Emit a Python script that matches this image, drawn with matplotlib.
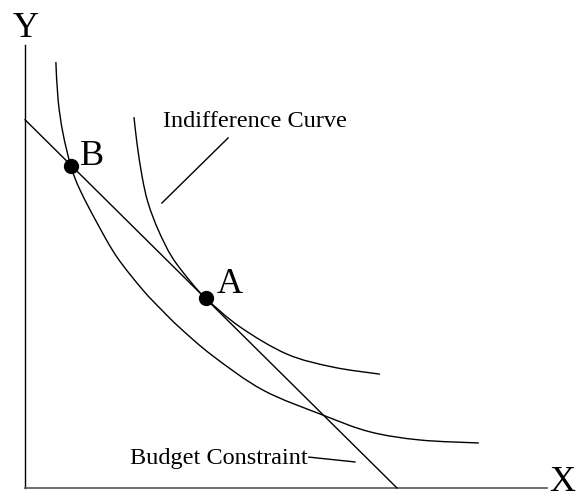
import matplotlib
matplotlib.use("Agg")
import matplotlib.pyplot as plt
from matplotlib.path import Path
from matplotlib.patches import PathPatch

plt.rcParams['font.family'] = ['Liberation Serif', 'DejaVu Serif']

# Lower indifference curve (through B)
curve1_x = [0.83, 0.89, 1.02, 1.24, 1.48, 1.94, 2.47, 3.17, 3.68, 4.17, 5.05, 6.40, 8.01, 9.27, 10.62, 12.20]
curve1_y = [11.45, 10.43, 9.54, 8.63, 8.01, 7.12, 6.21, 5.32, 4.78, 4.30, 3.55, 2.63, 1.96, 1.51, 1.29, 1.21]

# Upper indifference curve (tangent at A)
curve2_x = [2.93, 3.01, 3.15, 3.31, 3.58, 3.95, 4.44, 4.86, 5.78, 7.04, 8.28, 9.54]
curve2_y = [9.97, 9.27, 8.36, 7.66, 6.94, 6.21, 5.56, 5.10, 4.33, 3.60, 3.25, 3.06]

# Budget constraint end points (intercepts)
budget_x = [0.0, 10.0]
budget_y = [9.9, 0.0]

# Points
point_labels = ["A", "B"]
point_x = [4.86, 1.24]
point_y = [5.10, 8.65]


def smooth_path(xs, ys):
    """Catmull-Rom style smooth path through the read points (cubic Bezier)."""
    pts = list(zip(xs, ys))
    verts = [pts[0]]
    codes = [Path.MOVETO]
    n = len(pts)
    for i in range(n - 1):
        p0 = pts[i - 1] if i > 0 else pts[i]
        p1 = pts[i]
        p2 = pts[i + 1]
        p3 = pts[i + 2] if i + 2 < n else pts[i + 1]
        c1 = (p1[0] + (p2[0] - p0[0]) / 6.0, p1[1] + (p2[1] - p0[1]) / 6.0)
        c2 = (p2[0] - (p3[0] - p1[0]) / 6.0, p2[1] - (p3[1] - p1[1]) / 6.0)
        verts += [c1, c2, p2]
        codes += [Path.CURVE4, Path.CURVE4, Path.CURVE4]
    return Path(verts, codes)


fig = plt.figure(figsize=(5.77, 5.0), dpi=100)
ax = fig.add_axes([0, 0, 1, 1])
ax.set_xlim(-0.672, 14.839)
ax.set_ylim(-0.323, 13.118)
ax.axis('off')

# axes lines
ax.plot([0, 0], [0, 11.91], color='black', lw=1.0)
ax.plot([0, 14.03], [0, 0], color='#555555', lw=1.2)
ax.text(0.01, 12.12, "Y", fontsize=26, ha='center', va='baseline')
ax.text(14.10, -0.08, "X", fontsize=26, ha='left', va='baseline')

# curves
ax.add_patch(PathPatch(smooth_path(curve1_x, curve1_y), facecolor='none', edgecolor='black', lw=1.0))
ax.add_patch(PathPatch(smooth_path(curve2_x, curve2_y), facecolor='none', edgecolor='black', lw=1.0))
ax.plot(budget_x, budget_y, color='black', lw=1.0)

# points
ax.plot(point_x, point_y, 'o', color='black', markersize=10, zorder=5)
ax.text(point_x[0] + 0.30, point_y[0] + 0.14, point_labels[0], fontsize=26, va='baseline')
ax.text(point_x[1] + 0.24, point_y[1] + 0.03, point_labels[1], fontsize=26, va='baseline')

# annotations
ax.text(3.71, 9.70, "Indifference Curve", fontsize=17.5, va='baseline')
ax.plot([3.68, 5.46], [7.66, 9.41], color='black', lw=1.0)
ax.text(2.82, 0.645, "Budget Constraint", fontsize=17.5, va='baseline')
ax.plot([7.63, 8.87], [0.83, 0.70], color='black', lw=1.0)

fig.savefig("out.png", dpi=100)
